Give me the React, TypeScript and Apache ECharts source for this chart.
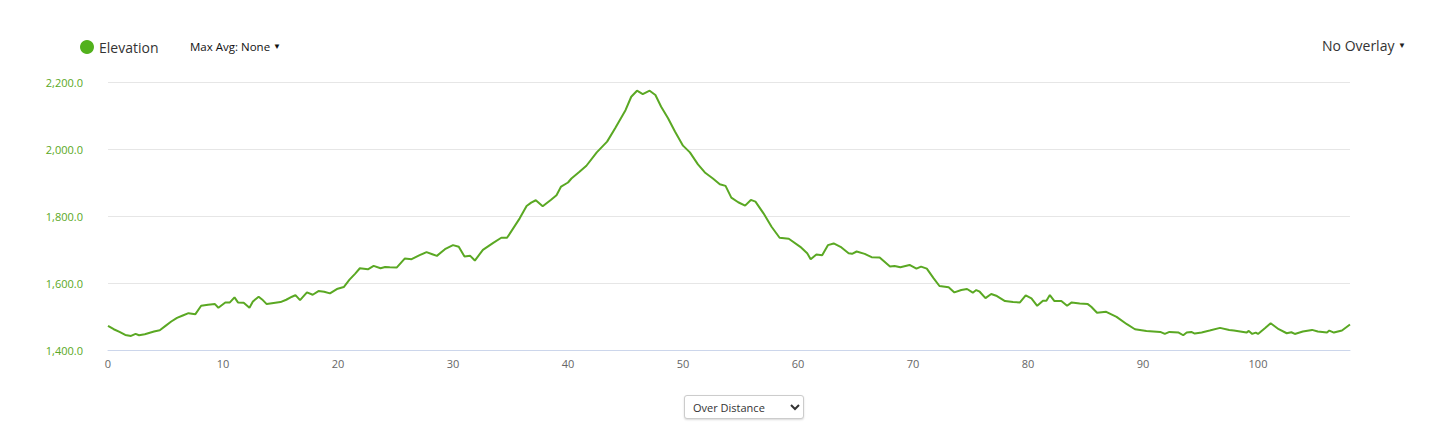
import React, { useRef, useEffect } from 'react';
import * as echarts from 'echarts';

// distance (km) and elevation (m)
const distances = [
    0, 0.5, 1.0, 1.5, 2.0, 2.4, 2.7, 3.2, 4.0, 4.5, 5.0, 5.5, 6.0, 6.5, 7.0, 7.6, 8.1, 8.7, 9.3, 9.6,
    10.2, 10.6, 11.0, 11.3, 11.8, 12.3, 12.6, 13.1, 13.4, 13.8, 14.4, 15.0, 15.5, 16.0, 16.3, 16.7, 17.3, 17.8, 18.3, 18.8,
    19.3, 19.9, 20.5, 21.0, 21.5, 21.9, 22.6, 23.1, 23.7, 24.1, 24.5, 25.1, 25.8, 26.4, 27.1, 27.7, 28.2, 28.6, 29.3, 30.0,
    30.5, 31.0, 31.5, 31.9, 32.6, 33.5, 34.2, 34.7, 35.8, 36.4, 36.8, 37.2, 37.8, 38.5, 39.0, 39.4, 40.0, 40.3, 41.0, 41.6,
    42.5, 43.4, 44.1, 45.0, 45.5, 46.0, 46.5, 47.1, 47.6, 48.1, 48.7, 49.3, 50.0, 50.6, 51.3, 51.9, 52.6, 53.2, 53.7, 54.2,
    54.8, 55.4, 55.9, 56.3, 57.0, 57.7, 58.4, 59.2, 60.2, 60.8, 61.1, 61.6, 62.1, 62.6, 63.1, 63.7, 64.4, 64.7, 65.1, 65.8,
    66.4, 67.1, 68.0, 68.4, 68.9, 69.7, 70.3, 70.7, 71.2, 71.8, 72.3, 73.1, 73.6, 74.2, 74.7, 75.2, 75.5, 75.8, 76.3, 76.8,
    77.3, 78.0, 78.7, 79.3, 79.8, 80.3, 80.8, 81.3, 81.6, 81.9, 82.3, 82.9, 83.4, 83.8, 84.5, 85.2, 85.5, 86.0, 86.8, 87.7,
    88.6, 89.3, 90.3, 91.5, 91.9, 92.3, 93.1, 93.5, 93.8, 94.2, 94.5, 95.1, 95.8, 96.7, 97.5, 97.9, 99.0, 99.2, 99.5, 99.8,
    100.0, 100.6, 101.1, 101.8, 102.5, 102.9, 103.2, 103.9, 104.7, 105.2, 106.0, 106.2, 106.6, 107.3, 108.0
];
const elevations = [
    1472, 1462, 1454, 1445, 1442, 1448, 1444, 1447, 1455, 1459, 1472, 1485, 1496, 1503, 1510, 1507, 1532, 1535, 1537, 1526,
    1542, 1542, 1557, 1542, 1541, 1526, 1545, 1559, 1551, 1537, 1540, 1543, 1550, 1559, 1564, 1549, 1572, 1565, 1576, 1574,
    1569, 1582, 1588, 1610, 1628, 1644, 1641, 1651, 1644, 1648, 1647, 1646, 1673, 1671, 1683, 1692, 1686, 1681, 1701, 1713,
    1708, 1679, 1681, 1667, 1699, 1720, 1735, 1735, 1793, 1830, 1840, 1847, 1829, 1848, 1862, 1888, 1900, 1912, 1932, 1950,
    1990, 2022, 2062, 2116, 2156, 2174, 2164, 2174, 2161, 2126, 2092, 2052, 2010, 1990, 1954, 1930, 1912, 1895, 1890, 1855,
    1841, 1831, 1848, 1843, 1808, 1768, 1735, 1732, 1708, 1689, 1671, 1685, 1683, 1713, 1718, 1708, 1689, 1687, 1694, 1687,
    1677, 1676, 1649, 1651, 1647, 1654, 1643, 1649, 1643, 1614, 1591, 1587, 1572, 1579, 1582, 1571, 1579, 1574, 1555, 1567,
    1561, 1546, 1543, 1542, 1563, 1554, 1532, 1547, 1547, 1564, 1546, 1546, 1532, 1542, 1539, 1537, 1529, 1511, 1514, 1499,
    1477, 1462, 1457, 1454, 1448, 1454, 1452, 1444, 1452, 1454, 1449, 1452, 1458, 1466, 1460, 1458, 1452, 1457, 1448, 1452,
    1448, 1465, 1480, 1462, 1450, 1453, 1448, 1455, 1460, 1455, 1452, 1458, 1452, 1458, 1476
];
const yTicks = [1400, 1600, 1800, 2000, 2200];

const FONT = '"Open Sans", "Noto Sans", sans-serif';
const GREEN = '#5aa823';

const App = () => {
    const chartRef = useRef(null);

    useEffect(() => {
        const myChart = echarts.init(chartRef.current, null, { renderer: 'svg' });

        const option = {
            animation: false,
            textStyle: { fontFamily: FONT },
            legend: {
                left: 80,
                top: 40,
                padding: 0,
                icon: 'circle',
                itemWidth: 14,
                itemHeight: 14,
                data: ['Elevation'],
                textStyle: { fontSize: 14, color: '#333', fontFamily: FONT }
            },
            graphic: [
                {
                    type: 'text',
                    left: 190,
                    top: 40,
                    style: {
                        text: 'Max Avg: None {a|▼}',
                        fontSize: 11.5,
                        fill: '#111',
                        fontFamily: FONT,
                        rich: { a: { fontSize: 8, fill: '#111' } }
                    }
                },
                {
                    type: 'text',
                    right: 32,
                    top: 38,
                    style: {
                        text: 'No Overlay {a|▼}',
                        fontSize: 14,
                        fill: '#333',
                        fontFamily: FONT,
                        rich: { a: { fontSize: 8, fill: '#222' } }
                    }
                }
            ],
            grid: { left: 108, right: 88, top: 82, bottom: 86 },
            xAxis: {
                type: 'value',
                min: 0,
                max: 'dataMax',
                interval: 10,
                axisLine: { show: true, lineStyle: { color: '#ccd6eb' } },
                axisTick: { show: false },
                splitLine: { show: false },
                axisLabel: { color: '#666', fontSize: 11, margin: 8, showMaxLabel: false }
            },
            yAxis: {
                type: 'value',
                min: yTicks[0],
                max: yTicks[yTicks.length - 1],
                interval: 200,
                axisLine: { show: false },
                axisTick: { show: false },
                splitLine: { lineStyle: { color: '#e6e6e6' } },
                axisLabel: {
                    color: GREEN,
                    fontSize: 11,
                    margin: 25,
                    formatter: (v) => v.toLocaleString('en-US', { minimumFractionDigits: 1, maximumFractionDigits: 1 })
                }
            },
            series: [
                {
                    name: 'Elevation',
                    type: 'line',
                    showSymbol: false,
                    symbol: 'circle',
                    itemStyle: { color: '#52b11c' },
                    lineStyle: { width: 2, color: GREEN },
                    data: distances.map((d, i) => [d, elevations[i]])
                }
            ]
        };

        myChart.setOption(option);

        return () => {
            myChart.dispose();
        };
    }, []);

    return (
        <div style={{ position: 'fixed', left: 0, top: 0, width: 1438, height: 436, background: '#fff' }}>
            <div ref={chartRef} style={{ width: 1438, height: 436 }} />
            <select
                defaultValue="distance"
                style={{
                    position: 'absolute',
                    left: 684,
                    top: 395,
                    width: 120,
                    height: 24,
                    fontFamily: FONT,
                    fontSize: 11,
                    color: '#333',
                    border: '1px solid #ccc',
                    borderRadius: 3,
                    background: '#fff',
                    boxShadow: '0 1px 2px rgba(0,0,0,0.15)',
                    paddingLeft: 4
                }}
            >
                <option value="distance">Over Distance</option>
                <option value="time">Over Time</option>
            </select>
        </div>
    );
};

export default App;
